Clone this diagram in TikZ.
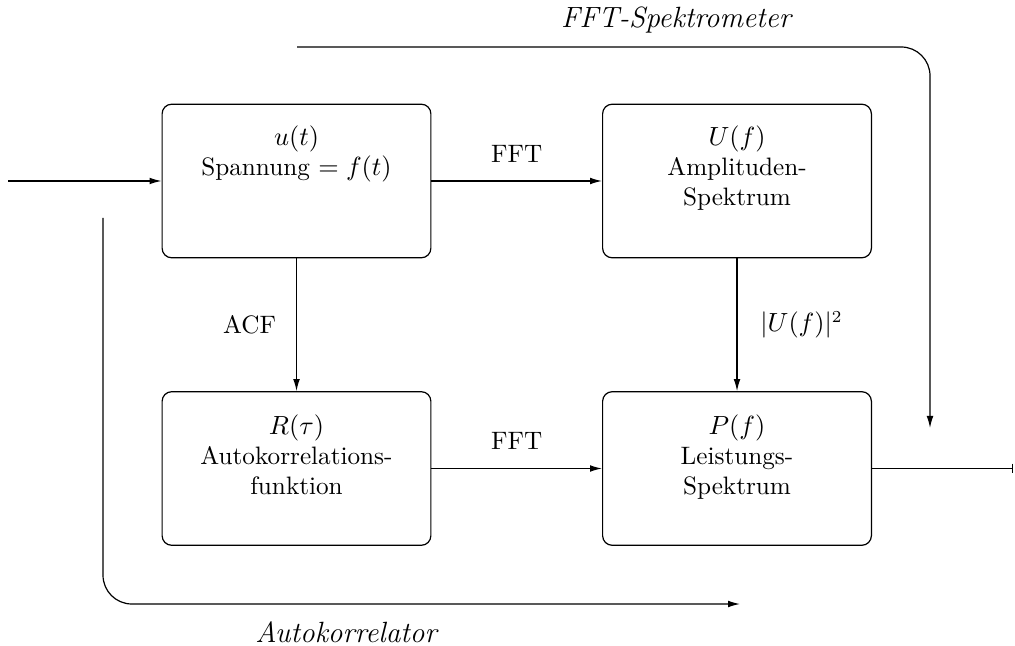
\documentclass[tikz,border=0pt]{standalone}
\usetikzlibrary{arrows.meta}
\begin{document}
\begin{tikzpicture}[x=0.4167pt,y=-0.4167pt,line width=0.5pt,
  font=\fontsize{10.5}{12.6}\selectfont,
  blk/.style={draw,rounded corners=4pt,minimum width=112pt,minimum height=64pt,inner sep=0pt},
  blktext/.style={anchor=north,align=center,inner sep=0pt},
  arr/.style={-{Latex[length=5pt,width=2.8pt]}},
  lbl/.style={inner sep=1pt},
  ital/.style={font=\fontsize{12.2}{14}\selectfont\itshape},
  path/.style={rounded corners=12pt}]
\useasboundingbox (0,0) rectangle (1015,646);
\node[blk] (b1) at (296.5,181) {};
\node[blk] (b2) at (737,181) {};
\node[blk] (b3) at (296.5,468.5) {};
\node[blk] (b4) at (737,468.5) {};
\node[blktext] (t1) at (296.5,125) {$u(t)$\\Spannung $=f(t)$};
\node[blktext] (t2) at (737,125) {$U(f)$\\Amplituden-\\Spektrum};
\node[blktext] (t3) at (296.5,414) {$R(\tau)$\\Autokorrelations-\\funktion};
\node[blktext] (t4) at (737,414) {$P(f)$\\Leistungs-\\Spektrum};
\coordinate (in) at (8,181);
\coordinate (out) at (1013,468.5);
\draw[arr] (in) -- (b1.west);
\draw[arr] (b1.east) -- node[lbl,above=6.5pt] (l1) {FFT} (b2.west);
\draw[arr] (b3.east) -- node[lbl,above=6.5pt] (l2) {FFT} (b4.west);
\draw[arr] (b1.south) -- node[lbl,left=7.3pt] (l3) {ACF} (b3.north);
\draw[arr] (b2.south) -- node[lbl,right=8.5pt] (l4) {$|U(f)|^2$} (b4.north);
\draw[-{Bar[width=4pt]}] (b4.east) -- (out);
\coordinate (s1) at (297,47);
\coordinate (s2) at (930,47);
\coordinate (s3) at (930,428);
\draw[arr,path] (s1) -- (s2) -- (s3);
\node[ital] (ls) at (676,20) {FFT-Spektrometer};
\coordinate (a1) at (103,218);
\coordinate (a2) at (103,604);
\coordinate (a3) at (740,604);
\draw[arr,path] (a1) -- (a2) -- (a3);
\node[ital] (la) at (346,632) {Autokorrelator};
\end{tikzpicture}
\end{document}
